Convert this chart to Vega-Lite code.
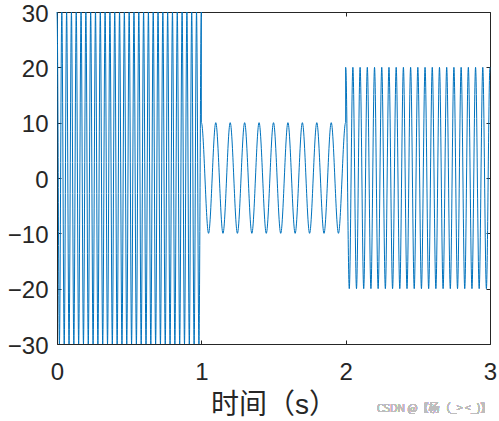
{
  "$schema": "https://vega.github.io/schema/vega-lite/v6.json",
  "autosize": "none",
  "width": 433,
  "height": 332,
  "padding": {"left": 57, "top": 12, "right": 9, "bottom": 77},
  "background": "white",
  "config": {
    "view": {"stroke": null},
    "axis": {
      "domainColor": "#262626",
      "tickColor": "#262626",
      "labelColor": "#262626",
      "titleColor": "#262626",
      "grid": false,
      "tickSize": -4,
      "labelFont": "Liberation Sans",
      "labelFontSize": 24,
      "domainWidth": 1,
      "tickWidth": 1
    }
  },
  "data": {
    "values": [
      {"t": 0, "v": 30, "seg": "a"}, {"t": 0.001, "v": 29.47, "seg": "a"},
      {"t": 0.0167, "v": -30, "seg": "a"}, {"t": 0.0333, "v": 30, "seg": "a"},
      {"t": 0.05, "v": -30, "seg": "a"}, {"t": 0.0667, "v": 30, "seg": "a"},
      {"t": 0.0833, "v": -30, "seg": "a"}, {"t": 0.1, "v": 30, "seg": "a"},
      {"t": 0.1167, "v": -30, "seg": "a"}, {"t": 0.1333, "v": 30, "seg": "a"},
      {"t": 0.15, "v": -30, "seg": "a"}, {"t": 0.1667, "v": 30, "seg": "a"},
      {"t": 0.1833, "v": -30, "seg": "a"}, {"t": 0.2, "v": 30, "seg": "a"},
      {"t": 0.2167, "v": -30, "seg": "a"}, {"t": 0.2333, "v": 30, "seg": "a"},
      {"t": 0.25, "v": -30, "seg": "a"}, {"t": 0.2667, "v": 30, "seg": "a"},
      {"t": 0.2833, "v": -30, "seg": "a"}, {"t": 0.3, "v": 30, "seg": "a"},
      {"t": 0.3167, "v": -30, "seg": "a"}, {"t": 0.3333, "v": 30, "seg": "a"},
      {"t": 0.35, "v": -30, "seg": "a"}, {"t": 0.3667, "v": 30, "seg": "a"},
      {"t": 0.3833, "v": -30, "seg": "a"}, {"t": 0.4, "v": 30, "seg": "a"},
      {"t": 0.4167, "v": -30, "seg": "a"}, {"t": 0.4333, "v": 30, "seg": "a"},
      {"t": 0.45, "v": -30, "seg": "a"}, {"t": 0.4667, "v": 30, "seg": "a"},
      {"t": 0.4833, "v": -30, "seg": "a"}, {"t": 0.5, "v": 30, "seg": "a"},
      {"t": 0.5167, "v": -30, "seg": "a"}, {"t": 0.5333, "v": 30, "seg": "a"},
      {"t": 0.55, "v": -30, "seg": "a"}, {"t": 0.5667, "v": 30, "seg": "a"},
      {"t": 0.5833, "v": -30, "seg": "a"}, {"t": 0.6, "v": 30, "seg": "a"},
      {"t": 0.6167, "v": -30, "seg": "a"}, {"t": 0.6333, "v": 30, "seg": "a"},
      {"t": 0.65, "v": -30, "seg": "a"}, {"t": 0.6667, "v": 30, "seg": "a"},
      {"t": 0.6833, "v": -30, "seg": "a"}, {"t": 0.7, "v": 30, "seg": "a"},
      {"t": 0.7167, "v": -30, "seg": "a"}, {"t": 0.7333, "v": 30, "seg": "a"},
      {"t": 0.75, "v": -30, "seg": "a"}, {"t": 0.7667, "v": 30, "seg": "a"},
      {"t": 0.7833, "v": -30, "seg": "a"}, {"t": 0.8, "v": 30, "seg": "a"},
      {"t": 0.8167, "v": -30, "seg": "a"}, {"t": 0.8333, "v": 30, "seg": "a"},
      {"t": 0.85, "v": -30, "seg": "a"}, {"t": 0.8667, "v": 30, "seg": "a"},
      {"t": 0.8833, "v": -30, "seg": "a"}, {"t": 0.9, "v": 30, "seg": "a"},
      {"t": 0.9167, "v": -30, "seg": "a"}, {"t": 0.9333, "v": 30, "seg": "a"},
      {"t": 0.95, "v": -30, "seg": "a"}, {"t": 0.9667, "v": 30, "seg": "a"},
      {"t": 0.9833, "v": -30, "seg": "a"}, {"t": 0.999, "v": 29.47, "seg": "a"},
      {"t": 1, "v": 30, "seg": "a"},
      {"t": 1, "v": 10, "seg": "b"}, {"t": 1.001, "v": 9.98, "seg": "b"},
      {"t": 1.05, "v": -10, "seg": "b"}, {"t": 1.1, "v": 10, "seg": "b"},
      {"t": 1.15, "v": -10, "seg": "b"}, {"t": 1.2, "v": 10, "seg": "b"},
      {"t": 1.25, "v": -10, "seg": "b"}, {"t": 1.3, "v": 10, "seg": "b"},
      {"t": 1.35, "v": -10, "seg": "b"}, {"t": 1.4, "v": 10, "seg": "b"},
      {"t": 1.45, "v": -10, "seg": "b"}, {"t": 1.5, "v": 10, "seg": "b"},
      {"t": 1.55, "v": -10, "seg": "b"}, {"t": 1.6, "v": 10, "seg": "b"},
      {"t": 1.65, "v": -10, "seg": "b"}, {"t": 1.7, "v": 10, "seg": "b"},
      {"t": 1.75, "v": -10, "seg": "b"}, {"t": 1.8, "v": 10, "seg": "b"},
      {"t": 1.85, "v": -10, "seg": "b"}, {"t": 1.9, "v": 10, "seg": "b"},
      {"t": 1.95, "v": -10, "seg": "b"}, {"t": 1.999, "v": 9.98, "seg": "b"},
      {"t": 2, "v": 10, "seg": "b"},
      {"t": 2, "v": 20, "seg": "c"}, {"t": 2.001, "v": 19.84, "seg": "c"},
      {"t": 2.025, "v": -20, "seg": "c"}, {"t": 2.05, "v": 20, "seg": "c"},
      {"t": 2.075, "v": -20, "seg": "c"}, {"t": 2.1, "v": 20, "seg": "c"},
      {"t": 2.125, "v": -20, "seg": "c"}, {"t": 2.15, "v": 20, "seg": "c"},
      {"t": 2.175, "v": -20, "seg": "c"}, {"t": 2.2, "v": 20, "seg": "c"},
      {"t": 2.225, "v": -20, "seg": "c"}, {"t": 2.25, "v": 20, "seg": "c"},
      {"t": 2.275, "v": -20, "seg": "c"}, {"t": 2.3, "v": 20, "seg": "c"},
      {"t": 2.325, "v": -20, "seg": "c"}, {"t": 2.35, "v": 20, "seg": "c"},
      {"t": 2.375, "v": -20, "seg": "c"}, {"t": 2.4, "v": 20, "seg": "c"},
      {"t": 2.425, "v": -20, "seg": "c"}, {"t": 2.45, "v": 20, "seg": "c"},
      {"t": 2.475, "v": -20, "seg": "c"}, {"t": 2.5, "v": 20, "seg": "c"},
      {"t": 2.525, "v": -20, "seg": "c"}, {"t": 2.55, "v": 20, "seg": "c"},
      {"t": 2.575, "v": -20, "seg": "c"}, {"t": 2.6, "v": 20, "seg": "c"},
      {"t": 2.625, "v": -20, "seg": "c"}, {"t": 2.65, "v": 20, "seg": "c"},
      {"t": 2.675, "v": -20, "seg": "c"}, {"t": 2.7, "v": 20, "seg": "c"},
      {"t": 2.725, "v": -20, "seg": "c"}, {"t": 2.75, "v": 20, "seg": "c"},
      {"t": 2.775, "v": -20, "seg": "c"}, {"t": 2.8, "v": 20, "seg": "c"},
      {"t": 2.825, "v": -20, "seg": "c"}, {"t": 2.85, "v": 20, "seg": "c"},
      {"t": 2.875, "v": -20, "seg": "c"}, {"t": 2.9, "v": 20, "seg": "c"},
      {"t": 2.925, "v": -20, "seg": "c"}, {"t": 2.95, "v": 20, "seg": "c"},
      {"t": 2.975, "v": -20, "seg": "c"}, {"t": 2.999, "v": 19.84, "seg": "c"},
      {"t": 3, "v": 20, "seg": "c"},
      {"t": 1, "v": 30, "seg": "j1"}, {"t": 1, "v": 10, "seg": "j1"},
      {"t": 2, "v": 10, "seg": "j2"}, {"t": 2, "v": 20, "seg": "j2"}
    ]
  },
  "resolve": {"axis": {"x": "independent", "y": "independent"}},
  "layer": [
    {
      "transform": [{"filter": {"field": "seg", "oneOf": ["a", "b", "c"]}}],
      "mark": {"type": "line", "interpolate": "monotone", "color": "#0072BD", "strokeWidth": 1},
      "encoding": {
        "x": {
          "field": "t", "type": "quantitative",
          "scale": {"domain": [0, 3], "nice": false, "zero": false},
          "axis": {"orient": "bottom", "values": [0, 1, 2, 3], "title": "时间（s）",
                   "titleFont": "Liberation Sans, Noto Sans CJK SC", "titleFontSize": 28, "titleFontWeight": "normal",
                   "labelPadding": 20, "titlePadding": 7, "labelFlush": false}
        },
        "y": {
          "field": "v", "type": "quantitative",
          "scale": {"domain": [-30, 30], "nice": false, "zero": false},
          "axis": {"orient": "left", "values": [-30, -20, -10, 0, 10, 20, 30], "title": null,
                   "labelPadding": 13, "labelOffset": 2}
        },
        "detail": {"field": "seg"}
      }
    },
    {
      "transform": [{"filter": {"field": "seg", "oneOf": ["j1", "j2"]}}],
      "mark": {"type": "line", "color": "#0072BD", "strokeWidth": 1},
      "encoding": {
        "x": {
          "field": "t", "type": "quantitative",
          "scale": {"domain": [0, 3], "nice": false, "zero": false},
          "axis": {"orient": "top", "values": [0, 1, 2, 3], "labels": false, "title": null}
        },
        "y": {
          "field": "v", "type": "quantitative",
          "scale": {"domain": [-30, 30], "nice": false, "zero": false},
          "axis": {"orient": "right", "values": [-30, -20, -10, 0, 10, 20, 30], "labels": false, "title": null}
        },
        "detail": {"field": "seg"}
      }
    },
    {
      "mark": {"type": "text", "align": "right", "baseline": "middle", "fontSize": 11, "fontWeight": 300, "color": "#bdbdbd", "font": "Noto Sans CJK SC"},
      "encoding": {
        "x": {"datum": 3.01, "type": "quantitative", "axis": null},
        "y": {"datum": -41.8, "type": "quantitative", "axis": null},
        "text": {"value": "CSDN @【杨（_> <_)】"}
      }
    }
  ]
}
